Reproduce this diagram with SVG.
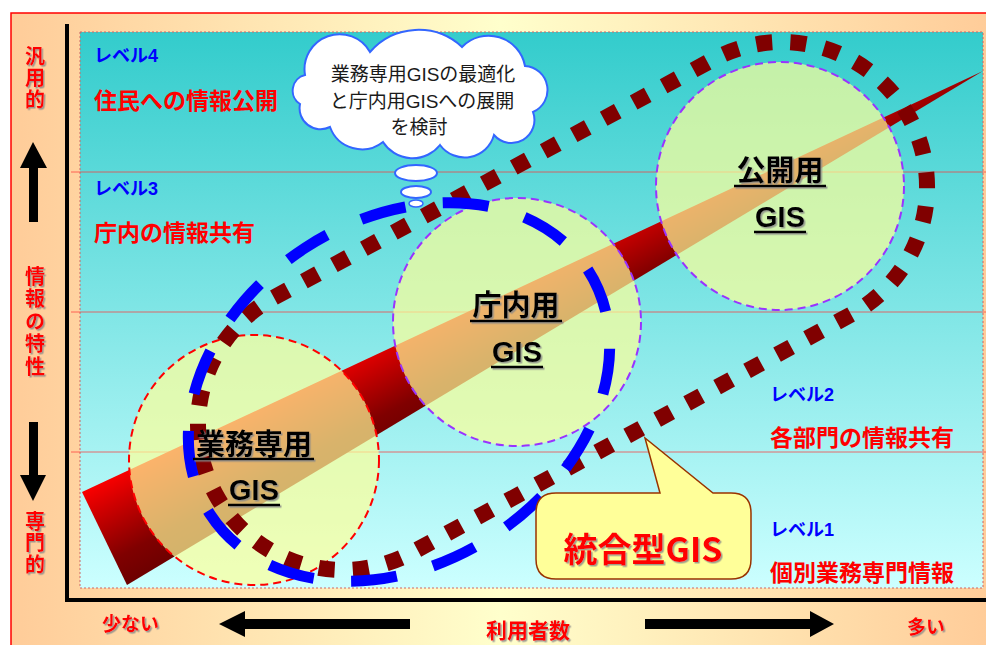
<svg xmlns="http://www.w3.org/2000/svg" width="986" height="645" viewBox="0 0 986 645">
<defs>
  <linearGradient id="bgGrad" x1="0" y1="0" x2="1" y2="0">
    <stop offset="0" stop-color="#FFCC99"/>
    <stop offset="0.5" stop-color="#FFFFCC"/>
    <stop offset="1" stop-color="#FFCC99"/>
  </linearGradient>
  <linearGradient id="plotGrad" x1="0" y1="0" x2="0" y2="1">
    <stop offset="0" stop-color="#33CCCC"/>
    <stop offset="1" stop-color="#CCFFFF"/>
  </linearGradient>
  <linearGradient id="bandGrad" gradientUnits="userSpaceOnUse" x1="220" y1="415" x2="272" y2="512">
    <stop offset="0" stop-color="#FF0000"/>
    <stop offset="0.25" stop-color="#D00000"/>
    <stop offset="0.7" stop-color="#800000"/>
    <stop offset="1" stop-color="#6A0000"/>
  </linearGradient>
  <filter id="shadow" x="-10%" y="-20%" width="130%" height="150%">
    <feDropShadow dx="1.5" dy="1.5" stdDeviation="0.6" flood-color="#888888" flood-opacity="0.8"/>
  </filter>
</defs>
<style>
  .lvl { font-family: "Liberation Sans", "Noto Sans CJK JP", sans-serif; font-weight: bold; font-size: 18px; fill: #0000FF; }
  .info { font-family: "Noto Sans CJK JP", sans-serif; font-weight: bold; font-size: 23px; fill: #FF0000; }
  .axis { font-family: "Noto Sans CJK JP", sans-serif; font-weight: bold; font-size: 19px; fill: #FF0000; }
  .vaxis { font-family: "Noto Sans CJK JP", sans-serif; font-weight: bold; font-size: 20px; fill: #FF0000; writing-mode: vertical-rl; }
  .glabel { font-family: "Liberation Sans", "Noto Sans CJK JP", sans-serif; font-weight: bold; font-size: 29px; fill: #000000; text-anchor: middle; }
  .cloudtxt { font-family: "Liberation Sans", "Noto Sans CJK JP", sans-serif; font-size: 19px; fill: #1A1A1A; text-anchor: middle; }
  .circ { fill: #FFFF99; fill-opacity: 0.7; stroke-width: 2; stroke-dasharray: 8 5; }
  .uline { stroke: #000000; stroke-width: 2.5; }
  .hline { stroke: #FF3333; stroke-width: 1; opacity: 0.7; }
  .arrow { fill: #000000; }
</style>

<!-- background frame -->
<rect x="11" y="13" width="980" height="640" fill="url(#bgGrad)" stroke="#FF0000" stroke-width="1.5"/>
<rect x="80" y="32" width="903" height="556" fill="url(#plotGrad)" stroke="#CC6666" stroke-width="1" stroke-dasharray="2 2"/>
<line class="hline" x1="71" y1="172" x2="986" y2="172"/>
<line class="hline" x1="71" y1="312" x2="986" y2="312"/>
<line class="hline" x1="71" y1="452" x2="986" y2="452"/>

<!-- axes -->
<line x1="67" y1="24" x2="67" y2="602" stroke="#000" stroke-width="4"/>
<line x1="65" y1="600" x2="986" y2="600" stroke="#000" stroke-width="4"/>

<!-- band -->
<polygon id="band" points="82,492 983,71 127,585" fill="url(#bandGrad)"/>

<!-- circles -->
<g id="gyomu">
  <circle class="circ" cx="254" cy="460" r="125" stroke="#FF0000"/>
</g>
<g id="chonai">
  <circle class="circ" cx="517" cy="322" r="124" stroke="#9933FF"/>
</g>
<g id="kokai">
  <circle class="circ" cx="780" cy="186" r="124" stroke="#9933FF"/>
</g>

<!-- integrated loop (dotted) -->
<g id="integrated-loop" transform="translate(343,425) rotate(-28.46)">
  <rect x="-145" y="-145" width="789.4" height="290" rx="145" ry="145" fill="none" stroke="#800000" stroke-width="16" stroke-dasharray="16 18.1"/>
</g>

<!-- blue dashed loop -->
<g id="optimize-loop">
  <ellipse cx="399" cy="392" rx="225" ry="172" transform="rotate(-33 399 392)" fill="none" stroke="#0000FF" stroke-width="11" stroke-dasharray="46 37.5"/>
</g>

<!-- circle labels -->
<g id="gyomu-label" filter="url(#shadow)">
  <text class="glabel" x="254" y="455">業務専用</text>
  <line class="uline" x1="193" y1="459" x2="314" y2="459"/>
  <text class="glabel" x="254" y="500">GIS</text>
  <line class="uline" x1="228" y1="505" x2="280" y2="505"/>
</g>
<g id="chonai-label" filter="url(#shadow)">
  <text class="glabel" x="516" y="316">庁内用</text>
  <line class="uline" x1="470" y1="321" x2="562" y2="321"/>
  <text class="glabel" x="517" y="362">GIS</text>
  <line class="uline" x1="491" y1="367" x2="543" y2="367"/>
</g>
<g id="kokai-label" filter="url(#shadow)">
  <text class="glabel" x="780" y="181">公開用</text>
  <line class="uline" x1="734" y1="186" x2="826" y2="186"/>
  <text class="glabel" x="780" y="227">GIS</text>
  <line class="uline" x1="754" y1="232" x2="806" y2="232"/>
</g>

<!-- level texts -->
<g id="level4">
  <text class="lvl" x="94" y="62">レベル4</text>
  <text class="info" x="94" y="109">住民への情報公開</text>
</g>
<g id="level3">
  <text class="lvl" x="94" y="195">レベル3</text>
  <text class="info" x="94" y="241">庁内の情報共有</text>
</g>
<g id="level2">
  <text class="lvl" x="770" y="401">レベル2</text>
  <text class="info" x="770" y="446">各部門の情報共有</text>
</g>
<g id="level1">
  <text class="lvl" x="770" y="536">レベル1</text>
  <text class="info" x="770" y="581">個別業務専門情報</text>
</g>

<!-- thought cloud -->
<g id="cloud">
  <path d="M305,75 A35,35 0 0 1 370,52 A64,64 0 0 1 462,47 A37,37 0 0 1 525,66 A24,24 0 0 1 533,112 A23,23 0 0 1 494,135 A30.5,30.5 0 0 1 440,145 A35,35 0 0 1 383,142 A34,34 0 0 1 330,127 A21,21 0 0 1 300,104 A16,16 0 0 1 305,75 Z" fill="#FFFFFF" stroke="#3366FF" stroke-width="2"/>
  <ellipse cx="416" cy="173" rx="21" ry="8" fill="#FFFFFF" stroke="#3366FF" stroke-width="2"/>
  <ellipse cx="416" cy="192" rx="15" ry="6" fill="#FFFFFF" stroke="#3366FF" stroke-width="2"/>
  <ellipse cx="416" cy="203.5" rx="7" ry="3.5" fill="#FFFFFF" stroke="#3366FF" stroke-width="1.5"/>
  <text class="cloudtxt" x="423" y="81">業務専用GISの最適化</text>
  <text class="cloudtxt" x="422" y="108">と庁内用GISへの展開</text>
  <text class="cloudtxt" x="419" y="134">を検討</text>
</g>

<!-- callout -->
<g id="callout">
  <path d="M556,493 L660,493 L645,438 L713,493 L731,493 Q751,493 751,513 L751,559 Q751,579 731,579 L556,579 Q536,579 536,559 L536,513 Q536,493 556,493 Z" fill="#FFFF99" stroke="#993300" stroke-width="1.5"/>
  <text x="643" y="562" filter="url(#shadow)" style="font-family: 'Noto Sans CJK JP', sans-serif; font-weight: bold; font-size: 34px; fill: #FF0000; text-anchor: middle;">統合型GIS</text>
</g>

<!-- axis labels -->
<g id="y-axis-labels" filter="url(#shadow)">
  <text class="vaxis" x="35" y="46" letter-spacing="1.5">汎用的</text>
  <text class="vaxis" x="35" y="266" letter-spacing="2.5">情報の特性</text>
  <text class="vaxis" x="35" y="511" letter-spacing="1.5">専門的</text>
</g>
<g id="x-axis-labels" filter="url(#shadow)">
  <text class="axis" x="102" y="631">少ない</text>
  <text class="axis" x="528" y="638" text-anchor="middle" style="font-size:21px">利用者数</text>
  <text class="axis" x="907" y="634">多い</text>
</g>

<!-- connectors: axis arrows -->
<g id="connectors">
  <polygon class="arrow" points="33,142 47,168 38,168 38,222 29,222 29,168 20,168"/>
  <polygon class="arrow" points="29,422 38,422 38,475 46,475 33,501 20,475 29,475"/>
  <polygon class="arrow" points="219,624 245,611 245,619 410,619 410,629 245,629 245,637"/>
  <polygon class="arrow" points="645,619 810,619 810,611 834,624 810,637 810,629 645,629"/>
</g>
</svg>
